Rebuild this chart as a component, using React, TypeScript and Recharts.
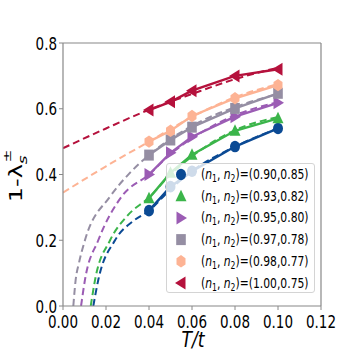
import { LineChart, Line, XAxis, YAxis, ReferenceLine, Legend } from "recharts";

// measured values
const T_VALUES = [0.04, 0.05, 0.06, 0.08, 0.1];
const BLUE = [0.29, 0.363, 0.41, 0.485, 0.54];
const GREEN = [0.328, 0.405, 0.46, 0.533, 0.571];
const PURPLE = [0.4, 0.466, 0.515, 0.576, 0.618];
const GRAY = [0.459, 0.505, 0.544, 0.601, 0.647];
const PEACH = [0.5, 0.533, 0.578, 0.632, 0.672];
const RED = [0.596, 0.621, 0.655, 0.7, 0.72];

// dashed fit curves as [T/t, value]
const BLUE_FIT = [[0.0141, 0], [0.0164, 0.079], [0.0242, 0.2], [0.033, 0.26], [0.04, 0.29], [0.05, 0.355], [0.06, 0.41], [0.08, 0.485], [0.1, 0.54]];
const GREEN_FIT = [[0.0129, 0], [0.0149, 0.079], [0.0219, 0.2], [0.03, 0.275], [0.04, 0.33], [0.05, 0.4], [0.06, 0.455], [0.08, 0.535], [0.1, 0.575]];
const PURPLE_FIT = [[0.0084, 0], [0.0102, 0.079], [0.0164, 0.2], [0.0273, 0.333], [0.04, 0.4], [0.05, 0.462], [0.06, 0.51], [0.08, 0.58], [0.1, 0.62]];
const GRAY_FIT = [[0.0048, 0], [0.0059, 0.08], [0.0074, 0.13], [0.0102, 0.2], [0.0219, 0.333], [0.031, 0.404], [0.04, 0.459], [0.05, 0.508], [0.06, 0.548], [0.08, 0.605], [0.1, 0.645]];
const PEACH_FIT = [[0, 0.345], [0.02, 0.425], [0.04, 0.5], [0.06, 0.575], [0.08, 0.635], [0.1, 0.675]];
const RED_FIT = [[0, 0.48], [0.02, 0.54], [0.04, 0.597], [0.06, 0.645], [0.08, 0.69], [0.1, 0.725]];

const X_TICKS = [0, 0.02, 0.04, 0.06, 0.08, 0.1, 0.12];
const Y_TICKS = [0, 0.2, 0.4, 0.6, 0.8];

const SERIES = [
  { n: "(0.90,0.85)", color: "#0b4a94", shape: "circle", values: BLUE, fit: BLUE_FIT },
  { n: "(0.93,0.82)", color: "#3bb54a", shape: "up", values: GREEN, fit: GREEN_FIT },
  { n: "(0.95,0.80)", color: "#9b5cb4", shape: "right", values: PURPLE, fit: PURPLE_FIT },
  { n: "(0.97,0.78)", color: "#958ea3", shape: "square", values: GRAY, fit: GRAY_FIT },
  { n: "(0.98,0.77)", color: "#fdb394", shape: "hex", values: PEACH, fit: PEACH_FIT },
  { n: "(1.00,0.75)", color: "#b5113c", shape: "left", values: RED, fit: RED_FIT },
];

const FONT = "DejaVu Sans";
const SQUEEZE = 0.75;
const SPINE = "#888888";

function Marker({ shape, cx, cy, color }: { shape: string; cx: number; cy: number; color: string }) {
  switch (shape) {
    case "circle":
      return <ellipse cx={cx} cy={cy} rx={5} ry={5.8} fill={color} />;
    case "square":
      return <rect x={cx - 4.8} y={cy - 5.5} width={9.6} height={11} fill={color} />;
    case "up":
      return <polygon points={`${cx},${cy - 6.5} ${cx + 5.5},${cy + 5} ${cx - 5.5},${cy + 5}`} fill={color} />;
    case "right":
      return <polygon points={`${cx + 6},${cy} ${cx - 4.5},${cy - 6.5} ${cx - 4.5},${cy + 6.5}`} fill={color} />;
    case "left":
      return <polygon points={`${cx - 6},${cy} ${cx + 4.5},${cy - 6.5} ${cx + 4.5},${cy + 6.5}`} fill={color} />;
    case "hex": {
      const pts = [0, 60, 120, 180, 240, 300]
        .map((a) => {
          const r = ((a - 90) * Math.PI) / 180;
          return `${cx + 5.2 * Math.cos(r)},${cy + 6.2 * Math.sin(r)}`;
        })
        .join(" ");
      return <polygon points={pts} fill={color} />;
    }
    default:
      return null;
  }
}

const XTick = ({ x, y, payload }: any) => (
  <g transform={`translate(${x},${y + 16}) scale(${SQUEEZE},1)`}>
    <text textAnchor="middle" fontFamily={FONT} fontSize={18} fill="#000">
      {Number(payload.value).toFixed(2)}
    </text>
  </g>
);

const YTick = ({ x, y, payload }: any) => (
  <g transform={`translate(${x},${y + 6.5}) scale(${SQUEEZE},1)`}>
    <text textAnchor="end" fontFamily={FONT} fontSize={18} fill="#000">
      {Number(payload.value).toFixed(1)}
    </text>
  </g>
);

function LegendLabel({ n }: { n: string }) {
  return (
    <text fontFamily={FONT} fontSize={14} fill="#000">
      (<tspan fontStyle="italic">n</tspan>
      <tspan fontSize={10} dy={3}>1</tspan>
      <tspan dy={-3}>, </tspan>
      <tspan fontStyle="italic">n</tspan>
      <tspan fontSize={10} dy={3}>2</tspan>
      <tspan dy={-3}>)={n}</tspan>
    </text>
  );
}

function LegendBox() {
  return (
    <div
      style={{
        width: 149,
        height: 130,
        boxSizing: "border-box",
        background: "rgba(255,255,255,0.8)",
        border: "1px solid #d4d4d4",
        borderRadius: 3,
      }}
    >
      <svg width={147} height={128} style={{ display: "block", overflow: "visible" }}>
        {SERIES.map((s, i) => {
          const cy = 10.5 + i * 21.7;
          return (
            <g key={s.n}>
              <Marker shape={s.shape} cx={14} cy={cy} color={s.color} />
              <g transform={`translate(34,${cy + 4.5}) scale(0.77,1)`}>
                <LegendLabel n={s.n} />
              </g>
            </g>
          );
        })}
      </svg>
    </div>
  );
}

export default function App() {
  return (
    <div style={{ position: "absolute", left: 0, top: 0, width: 357, height: 360, background: "#fff" }}>
      <LineChart width={357} height={360} margin={{ top: 43, right: 36, bottom: 0, left: 0 }}>
        <XAxis
          type="number"
          dataKey="x"
          domain={[0, 0.12]}
          ticks={X_TICKS}
          height={54}
          tick={<XTick />}
          tickSize={4}
          axisLine={{ stroke: SPINE, strokeWidth: 1.2 }}
          tickLine={{ stroke: SPINE }}
          allowDataOverflow
        />
        <YAxis
          type="number"
          dataKey="y"
          domain={[0, 0.8]}
          ticks={Y_TICKS}
          width={63}
          tick={<YTick />}
          tickSize={4}
          axisLine={{ stroke: SPINE, strokeWidth: 1.2 }}
          tickLine={{ stroke: SPINE }}
          allowDataOverflow
        />
        <ReferenceLine y={0.8} stroke={SPINE} strokeWidth={1.2} />
        <ReferenceLine x={0.12} stroke={SPINE} strokeWidth={1.2} />
        {SERIES.map((s) => (
          <Line
            key={`fit-${s.n}`}
            data={s.fit.map(([x, y]) => ({ x, y }))}
            dataKey="y"
            type="monotone"
            stroke={s.color}
            strokeWidth={2}
            strokeDasharray="7 4"
            dot={false}
            legendType="none"
            isAnimationActive={false}
          />
        ))}
        {SERIES.map((s) => (
          <Line
            key={`pts-${s.n}`}
            name={s.n}
            data={T_VALUES.map((x, i) => ({ x, y: s.values[i] }))}
            dataKey="y"
            type="linear"
            stroke={s.color}
            strokeWidth={2.4}
            dot={(p: any) => <Marker key={`${s.n}-${p.index}`} shape={s.shape} cx={p.cx} cy={p.cy} color={s.color} />}
            isAnimationActive={false}
          />
        ))}
        <Legend
          layout="vertical"
          align="center"
          verticalAlign="middle"
          content={() => <LegendBox />}
          wrapperStyle={{ left: 166, top: 163, width: 149, height: 130 }}
        />
        <g transform={`translate(22,176) scale(${SQUEEZE},1) rotate(-90)`}>
          <text textAnchor="middle" fontFamily={FONT} fontSize={24} fill="#000">
            1-λ
            <tspan fontSize={17} fontStyle="italic" dy={7}>s</tspan>
            <tspan fontSize={15} dx={-7} dy={-22}>±</tspan>
          </text>
        </g>
        <g transform={`translate(193,347) scale(0.82,1)`}>
          <text textAnchor="middle" fontFamily={FONT} fontSize={21} fontStyle="italic" fill="#000">
            T/t
          </text>
        </g>
      </LineChart>
    </div>
  );
}
